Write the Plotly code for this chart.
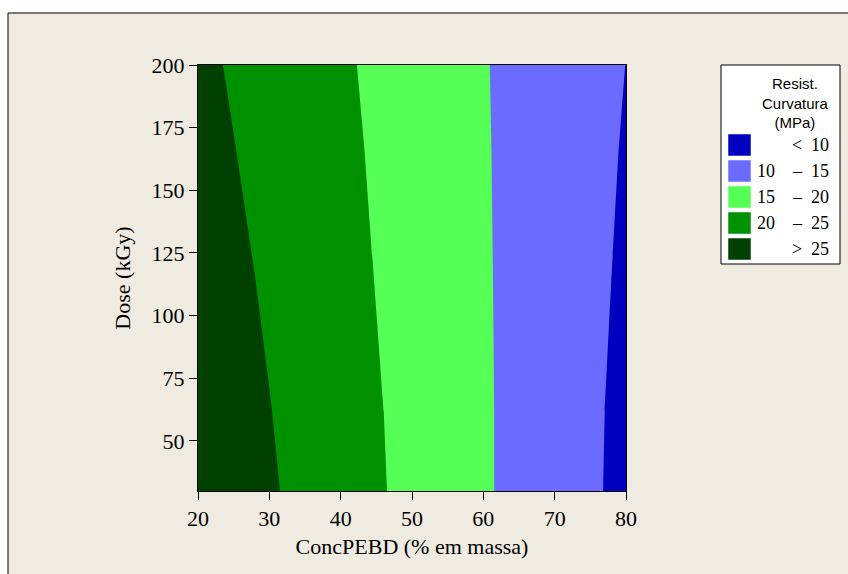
import plotly.graph_objects as go

# ---- data ----
conc = [20, 30, 40, 50, 60, 70, 80]              # ConcPEBD (% em massa)
dose = [30, 62, 114, 166, 200]                   # Dose (kGy)
resist = [                                        # Resist. Curvatura (MPa), rows = dose
    [28.83, 25.50, 22.17, 18.83, 15.50, 12.22, 8.95],
    [28.30, 25.12, 21.93, 18.73, 15.49, 12.26, 9.04],
    [27.44, 24.42, 21.41, 18.40, 15.41, 12.39, 9.38],
    [26.49, 23.71, 20.94, 18.13, 15.32, 12.51, 9.71],
    [25.93, 23.27, 20.61, 17.93, 15.24, 12.60, 9.97],
]
levels_start, levels_end, levels_size = 10, 25, 5
band_colors = ["#0000C0", "#6B6BFF", "#55FF55", "#009100", "#004000"]
band_left = ["", "10", "15", "20", ""]
band_sym = ["<", "–", "–", "–", ">"]
band_right = ["10", "15", "20", "25", "25"]
x_ticks = [20, 30, 40, 50, 60, 70, 80]
y_ticks = [50, 75, 100, 125, 150, 175, 200]

BG = "#EFEBE1"
W, H = 848, 574
L, R, T, B = 198, 222, 65, 83
PW, PH = W - L - R, H - T - B
SERIF = "Liberation Serif, Times New Roman, serif"


def px(xp):
    return (xp - L) / PW


def py(yp):
    return (H - B - yp) / PH


# stepped colorscale, one color per band
n = len(band_colors)
cs = []
for i, c in enumerate(band_colors):
    cs.append([i / n, c])
    cs.append([(i + 1) / n, c])

fig = go.Figure(go.Contour(
    x=conc, y=dose, z=resist,
    contours=dict(start=levels_start, end=levels_end, size=levels_size,
                  coloring="fill", showlines=False),
    colorscale=cs, showscale=False, line=dict(width=0, smoothing=0),
    hoverinfo="skip",
))

shapes = [
    dict(type="rect", xref="paper", yref="paper", layer="below",
         x0=px(8), x1=px(W + 5), y0=py(H + 5), y1=py(13),
         fillcolor=BG, line=dict(color="black", width=1)),
    dict(type="rect", xref="paper", yref="paper",
         x0=px(721), x1=px(840), y0=py(264), y1=py(65),
         fillcolor="white", line=dict(color="black", width=1)),
]
annotations = [
    dict(xref="paper", yref="paper", x=px(795), y=py(103),
         text="Resist.<br>Curvatura<br>(MPa)", showarrow=False,
         font=dict(family="Liberation Sans", size=15, color="black"),
         align="center", xanchor="center", yanchor="middle"),
]
sw_top = 134
for i, c in enumerate(band_colors):
    y0 = sw_top + i * 26
    shapes.append(dict(type="rect", xref="paper", yref="paper",
                       x0=px(728), x1=px(751), y0=py(y0 + 22), y1=py(y0),
                       fillcolor=c, line=dict(color="white", width=0.5)))
    yc = py(y0 + 11)
    f = dict(family=SERIF, size=18, color="black")
    if band_left[i]:
        annotations.append(dict(xref="paper", yref="paper", x=px(777), y=yc,
                                text=band_left[i], showarrow=False, font=f,
                                xanchor="right", yanchor="middle"))
    annotations.append(dict(xref="paper", yref="paper", x=px(797), y=yc,
                            text=band_sym[i], showarrow=False, font=f,
                            xanchor="center", yanchor="middle"))
    annotations.append(dict(xref="paper", yref="paper", x=px(831), y=yc,
                            text=band_right[i], showarrow=False, font=f,
                            xanchor="right", yanchor="middle"))

axis_common = dict(showgrid=False, zeroline=False, showline=True,
                   linecolor="black", linewidth=1, mirror=True,
                   ticks="outside", ticklen=8, tickcolor="black",
                   tickfont=dict(family=SERIF, size=22, color="black"))

fig.update_layout(
    width=W, height=H,
    margin=dict(l=L, r=R, t=T, b=B),
    paper_bgcolor="white", plot_bgcolor=BG,
    font=dict(family=SERIF, color="black"),
    xaxis=dict(range=[20, 80], tickvals=x_ticks,
               title=dict(text="ConcPEBD (% em massa)", standoff=8,
                          font=dict(family=SERIF, size=22, color="black")),
               **axis_common),
    yaxis=dict(range=[30, 200], tickvals=y_ticks,
               title=dict(text="Dose (kGy)", standoff=14,
                          font=dict(family=SERIF, size=22, color="black")),
               **axis_common),
    shapes=shapes, annotations=annotations,
    showlegend=False,
)

fig.write_html("out.html")
